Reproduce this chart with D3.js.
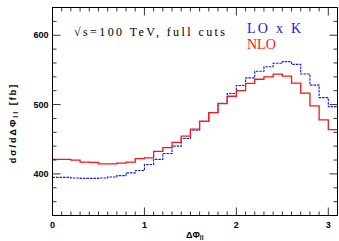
<!DOCTYPE html>
<html>
<head>
<meta charset="utf-8">
<script src="https://cdn.jsdelivr.net/npm/d3@7"></script>
<style>
  body { margin: 0; background: #fff; }
  svg { display: block; }
  .tick-label { font-family: "Liberation Sans", Arial, sans-serif; font-weight: bold; font-size: 9px; }
</style>
</head>
<body>
<div id="chart"></div>
<script>
// bin lower edges in delta phi, bin width 0.1
var binEdges = [0.0, 0.1, 0.2, 0.3, 0.4, 0.5, 0.6, 0.7, 0.8, 0.9, 1.0,
  1.1, 1.2, 1.3, 1.4, 1.5, 1.6, 1.7, 1.8, 1.9, 2.0,
  2.1, 2.2, 2.3, 2.4, 2.5, 2.6, 2.7, 2.8, 2.9, 3.0];
var binWidth = 0.1;

// LO x K (blue, dashed)
var loK = [395, 395, 394, 393.5, 393.5, 394, 395.5, 397.5, 401.5, 405, 413.5,
  421, 429.5, 440, 451, 463, 475.5, 488.5, 502, 516, 527.5,
  538.5, 548, 554.5, 559.5, 562, 558, 544, 528, 510, 497];

// NLO (red, solid)
var nlo = [421, 421, 420, 417, 416.5, 414.5, 414.5, 415.5, 417, 422, 423,
  432.5, 438, 445.5, 454.5, 464.5, 476, 488.5, 501.5, 512, 520,
  530.5, 536.5, 540, 544, 541, 531, 516.5, 498, 478, 464];

var xTicks = [0, 1, 2, 3];
var yTicks = [400, 500, 600];

var W = 339, H = 241;
var margin = {top: 7.5, right: 1.5, bottom: 25.5, left: 52.5};
var width = W - margin.left - margin.right;
var height = H - margin.top - margin.bottom;

var x = d3.scaleLinear().domain([0, 3.1]).range([0, width]);
var y = d3.scaleLinear().domain([340, 640]).range([height, 0]);

var svg = d3.select("#chart").append("svg")
  .attr("width", W).attr("height", H);
var g = svg.append("g")
  .attr("transform", "translate(" + margin.left + "," + margin.top + ")");

// step line through the bins
function histPts(vals) {
  var pts = [];
  vals.forEach(function(v, i) {
    pts.push([binEdges[i], v]);
    pts.push([Math.min(binEdges[i] + binWidth, 3.1), v]);
  });
  return pts;
}
var line = d3.line()
  .x(function(d) { return x(d[0]); })
  .y(function(d) { return y(d[1]); });

g.append("clipPath").attr("id", "clipper")
  .append("rect").attr("width", width).attr("height", height);

g.append("path")
  .datum(histPts(loK))
  .attr("clip-path", "url(#clipper)")
  .attr("fill", "none")
  .attr("stroke", "#1414ff")
  .attr("stroke-width", 1.1)
  .attr("stroke-dasharray", "2.5,1")
  .attr("d", line);

g.append("path")
  .datum(histPts(nlo))
  .attr("clip-path", "url(#clipper)")
  .attr("fill", "none")
  .attr("stroke", "#ff1414")
  .attr("stroke-width", 1.3)
  .attr("d", line);

// ticks, inward on all four sides
var xMinor = d3.range(0, 3.1001, 0.1);
var yMinor = d3.range(340, 640.001, 20);

function xTickMarks(sel, y0, dir) {
  sel.selectAll(null).data(xMinor).enter().append("line")
    .attr("x1", function(d) { return x(d); })
    .attr("x2", function(d) { return x(d); })
    .attr("y1", y0)
    .attr("y2", function(d) {
      var major = Math.abs(d - Math.round(d)) < 1e-6;
      return y0 + dir * (major ? 8 : 4);
    })
    .attr("stroke", "#000").attr("stroke-width", 0.8);
}
function yTickMarks(sel, x0, dir) {
  sel.selectAll(null).data(yMinor).enter().append("line")
    .attr("y1", function(d) { return y(d); })
    .attr("y2", function(d) { return y(d); })
    .attr("x1", x0)
    .attr("x2", function(d) {
      var major = Math.abs(d % 100) < 1e-6;
      return x0 + dir * (major ? 8 : 4);
    })
    .attr("stroke", "#000").attr("stroke-width", 0.8);
}
var tk = g.append("g");
xTickMarks(tk, height, -1);
xTickMarks(tk, 0, 1);
yTickMarks(tk, 0, 1);
yTickMarks(tk, width, -1);

// frame
g.append("rect")
  .attr("width", width).attr("height", height)
  .attr("fill", "none").attr("stroke", "#000").attr("stroke-width", 1);

// tick labels
g.selectAll(".xl").data(xTicks).enter().append("text")
  .attr("class", "tick-label")
  .attr("x", function(d) { return x(d); })
  .attr("y", height + 12)
  .attr("text-anchor", "middle")
  .text(function(d) { return d; });

g.selectAll(".yl").data(yTicks).enter().append("text")
  .attr("class", "tick-label")
  .attr("x", -4)
  .attr("y", function(d) { return y(d) + 3; })
  .attr("text-anchor", "end")
  .text(function(d) { return d; });

// axis titles
var xt = svg.append("text")
  .attr("class", "tick-label")
  .attr("x", 186).attr("y", 238);
xt.append("tspan").text("ΔΦ");
xt.append("tspan").attr("font-size", "6.5px").attr("dy", 2).text("ll");

var yt = svg.append("text")
  .attr("class", "tick-label")
  .attr("font-size", "10.5px")
  .attr("font-weight", "normal")
  .attr("letter-spacing", "2px")
  .attr("text-anchor", "middle")
  .attr("transform", "translate(16,123) rotate(-90)");
yt.append("tspan").text("dσ/dΔΦ");
yt.append("tspan").attr("font-size", "7px").attr("dy", 2).text("ll");
yt.append("tspan").attr("dy", -2).text(" [fb]");

// annotations
svg.append("text")
  .attr("x", 74).attr("y", 36)
  .attr("font-family", "Liberation Serif, Times New Roman, serif")
  .attr("font-size", "12px")
  .attr("textLength", 151)
  .attr("lengthAdjust", "spacing")
  .text("√s=100 TeV, full cuts");

svg.append("text")
  .attr("x", 247).attr("y", 33)
  .attr("font-family", "Liberation Serif, Times New Roman, serif")
  .attr("font-size", "14px")
  .attr("fill", "#1414ff")
  .attr("textLength", 54)
  .attr("lengthAdjust", "spacing")
  .text("LO x K");

svg.append("text")
  .attr("x", 247).attr("y", 49)
  .attr("font-family", "Liberation Serif, Times New Roman, serif")
  .attr("font-size", "14px")
  .attr("fill", "#ff1414")
  .text("NLO");
</script>
</body>
</html>
